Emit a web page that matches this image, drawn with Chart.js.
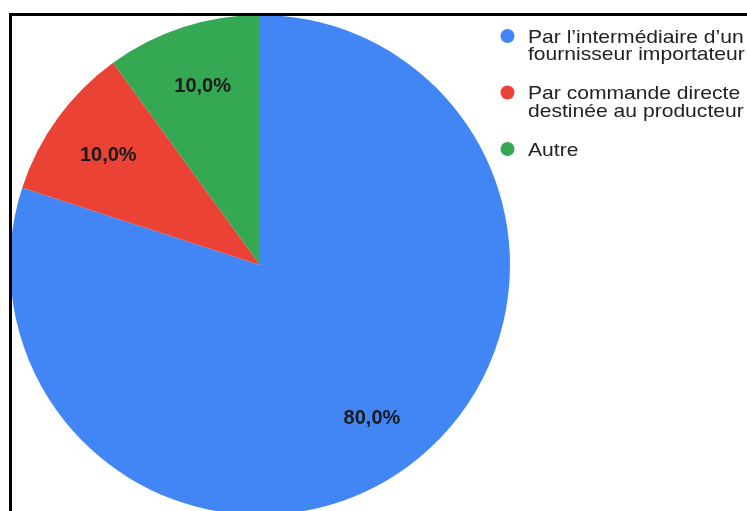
<!DOCTYPE html>
<html>
<head>
<meta charset="utf-8">
<script src="https://cdn.jsdelivr.net/npm/chart.js@4.4.1/dist/chart.umd.min.js"></script>
<style>
  html, body { margin: 0; padding: 0; background: #fff; }
  body { width: 747px; height: 511px; overflow: hidden; position: relative; }
  #wrap { position: absolute; left: 0; top: 0; width: 747px; height: 530px; }
  #frame {
    position: absolute; left: 9px; top: 13px; width: 760px; height: 520px;
    border-top: 3px solid #000; border-left: 3px solid #000; pointer-events: none;
  }
</style>
</head>
<body>
<div id="wrap"><canvas id="chart" width="747" height="530"></canvas></div>
<div id="frame"></div>
<script>
// Categories (legend entries, split into lines) and their shares in percent
const categories = [
  ["Par l\u2019interm\u00e9diaire d\u2019un", "fournisseur importateur"],
  ["Par commande directe", "destin\u00e9e au producteur"],
  ["Autre"]
];
const shares = [80, 10, 10];
const sliceColors = ["#4285F4", "#EA4335", "#34A853"];

const fmtPct = v => v.toFixed(1).replace(".", ",") + "%";

// Percentage labels inside each slice, placed along the slice's mid angle
const sliceLabels = {
  id: "sliceLabels",
  afterDatasetsDraw(chart) {
    const ctx = chart.ctx;
    const meta = chart.getDatasetMeta(0);
    const values = chart.data.datasets[0].data;
    ctx.save();
    ctx.font = "bold 20px 'Liberation Sans', Arial, sans-serif";
    ctx.fillStyle = "#1a1a1a";
    ctx.textAlign = "center";
    ctx.textBaseline = "middle";
    meta.data.forEach((arc, i) => {
      const p = arc.getProps(["x", "y", "startAngle", "endAngle", "outerRadius"], true);
      const mid = (p.startAngle + p.endAngle) / 2;
      const r = p.outerRadius * 0.755;
      ctx.fillText(fmtPct(values[i]), p.x + Math.cos(mid) * r + 1, p.y + Math.sin(mid) * r + 1);
    });
    ctx.restore();
  }
};

// Legend on the right: coloured dot followed by one or more text lines
const sideLegend = {
  id: "sideLegend",
  afterDraw(chart) {
    const ctx = chart.ctx;
    const labels = chart.data.labels;
    const colors = chart.data.datasets[0].backgroundColor;
    const dotX = 507.5, textX = 528, firstBaseline = 42.5, itemGap = 56.5, lineGap = 17.5;
    ctx.save();
    ctx.font = "19px 'Liberation Sans', Arial, sans-serif";
    ctx.textAlign = "left";
    ctx.textBaseline = "alphabetic";
    labels.forEach((lines, i) => {
      const base = firstBaseline + i * itemGap;
      ctx.fillStyle = colors[i];
      ctx.beginPath();
      ctx.arc(dotX, base - 6.5, 7, 0, Math.PI * 2);
      ctx.fill();
      ctx.fillStyle = "#222";
      [].concat(lines).forEach((line, j) => {
        ctx.save();
        ctx.translate(textX, base + j * lineGap);
        ctx.scale(1.11, 1);
        ctx.fillText(line, 0, 0);
        ctx.restore();
      });
    });
    ctx.restore();
  }
};

new Chart(document.getElementById("chart"), {
  type: "pie",
  data: {
    labels: categories,
    datasets: [{
      data: shares,
      backgroundColor: sliceColors,
      borderWidth: 0,
      hoverOffset: 0
    }]
  },
  options: {
    responsive: false,
    animation: false,
    layout: { padding: { left: 10, top: 15, right: 237, bottom: 15 } },
    plugins: {
      legend: { display: false },
      tooltip: { enabled: false }
    }
  },
  plugins: [sliceLabels, sideLegend]
});
</script>
</body>
</html>
